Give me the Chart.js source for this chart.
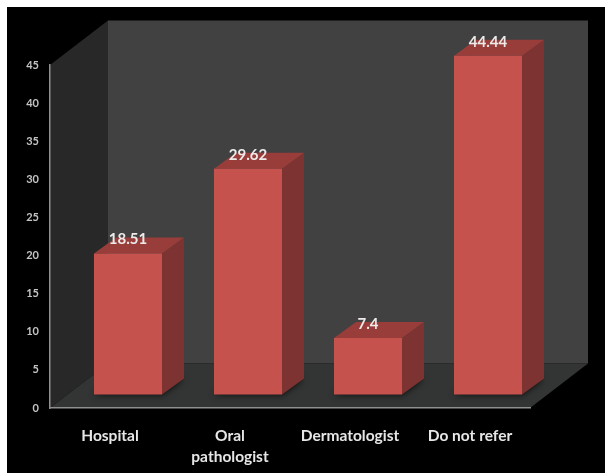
<!DOCTYPE html>
<html>
<head>
<meta charset="utf-8">
<style>
    html, body { margin: 0; padding: 0; background: #fff; }
    #wrap { width: 605px; height: 473px; }
</style>
<script src="https://cdn.jsdelivr.net/npm/chart.js@4/dist/chart.umd.min.js"></script>
</head>
<body>
<div id="wrap"><canvas id="chart" width="605" height="473"></canvas></div>
<script>
var categories = ["Hospital", ["Oral", "pathologist"], "Dermatologist", "Do not refer"];
var values = [18.51, 29.62, 7.4, 44.44];
var valueLabels = ["18.51", "29.62", "7.4", "44.44"];
var yMax = 45;
var yStep = 5;

// box depth of the room and of each bar, plus how far bars sit in from the front edge
var room = { dx: 58, dy: -44.5 };
var bar = { dx: 22, dy: -16 };
var inset = { dx: 18, dy: -13.5 };

function poly(ctx, pts, fill) {
    ctx.beginPath();
    ctx.moveTo(pts[0][0], pts[0][1]);
    for (var i = 1; i < pts.length; i++) ctx.lineTo(pts[i][0], pts[i][1]);
    ctx.closePath();
    ctx.fillStyle = fill;
    ctx.fill();
}

var box3d = {
    id: "box3d",

    // black backdrop and the three walls
    beforeDraw: function (chart) {
        var ctx = chart.ctx, a = chart.chartArea;
        ctx.save();
        ctx.fillStyle = "#000";
        ctx.fillRect(7, 7, chart.width - 7, chart.height - 7);
        poly(ctx, [[a.left + room.dx, a.top + room.dy], [a.right + room.dx, a.top + room.dy],
            [a.right + room.dx, a.bottom + room.dy], [a.left + room.dx, a.bottom + room.dy]], "#414141");
        poly(ctx, [[a.left, a.top], [a.left + room.dx, a.top + room.dy],
            [a.left + room.dx, a.bottom + room.dy], [a.left, a.bottom]], "#282828");
        poly(ctx, [[a.left, a.bottom], [a.left + room.dx, a.bottom + room.dy],
            [a.right + room.dx, a.bottom + room.dy], [a.right, a.bottom]], "#333535");
        ctx.restore();
    },

    // side and top faces go under the front face that the bar controller paints
    beforeDatasetDraw: function (chart, args) {
        var ctx = chart.ctx;
        var bars = args.meta.data;
        ctx.save();
        ctx.translate(inset.dx, inset.dy);
        for (var i = 0; i < bars.length; i++) {
            var b = bars[i];
            var l = b.x - b.width / 2, r = b.x + b.width / 2;

            ctx.save();
            ctx.shadowColor = "rgba(0,0,0,0.85)";
            ctx.shadowBlur = 7;
            poly(ctx, [[l, b.base], [r, b.base], [r + bar.dx, b.base + bar.dy], [l + bar.dx, b.base + bar.dy]], "#1c1f1e");
            ctx.restore();

            poly(ctx, [[r, b.y], [r + bar.dx, b.y + bar.dy], [r + bar.dx, b.base + bar.dy], [r, b.base]], "#7d3331");
            poly(ctx, [[l, b.y], [l + bar.dx, b.y + bar.dy], [r + bar.dx, b.y + bar.dy], [r, b.y]], "#983d3a");
        }
    },

    afterDatasetDraw: function (chart, args) {
        var ctx = chart.ctx;
        var bars = args.meta.data;
        ctx.font = "bold 15px Lato";
        ctx.fillStyle = "#eeeaea";
        ctx.textAlign = "center";
        ctx.textBaseline = "middle";
        for (var i = 0; i < bars.length; i++) {
            ctx.fillText(valueLabels[i], bars[i].x, bars[i].y - 14);
        }
        ctx.restore();
    }
};

new Chart(document.getElementById("chart"), {
    type: "bar",
    data: {
        labels: categories,
        datasets: [{
            data: values,
            backgroundColor: "#c6524d",
            borderWidth: 0,
            categoryPercentage: 1,
            barPercentage: 0.567,
            clip: false
        }]
    },
    plugins: [box3d],
    options: {
        responsive: false,
        animation: false,
        layout: { padding: { top: 65, right: 75, left: 0, bottom: 0 } },
        plugins: { legend: { display: false }, tooltip: { enabled: false } },
        scales: {
            x: {
                afterFit: function (s) { s.height = 65; },
                grid: { display: false, drawTicks: false },
                border: { display: true, color: "#8f8f8f", width: 1.5 },
                ticks: {
                    color: "#e6e6e6",
                    padding: 17,
                    maxRotation: 0,
                    autoSkip: false,
                    font: { family: "Lato", size: 15.5, weight: "bold", lineHeight: 1.38 }
                }
            },
            y: {
                min: 0,
                max: yMax,
                afterFit: function (s) { s.width = 50; },
                grid: { display: false, drawTicks: false },
                border: { display: true, color: "#8f8f8f", width: 1.5 },
                ticks: {
                    stepSize: yStep,
                    color: "#c4c4c4",
                    padding: 11,
                    font: { family: "Lato", size: 11, weight: "bold" }
                }
            }
        }
    }
});
</script>
</body>
</html>
